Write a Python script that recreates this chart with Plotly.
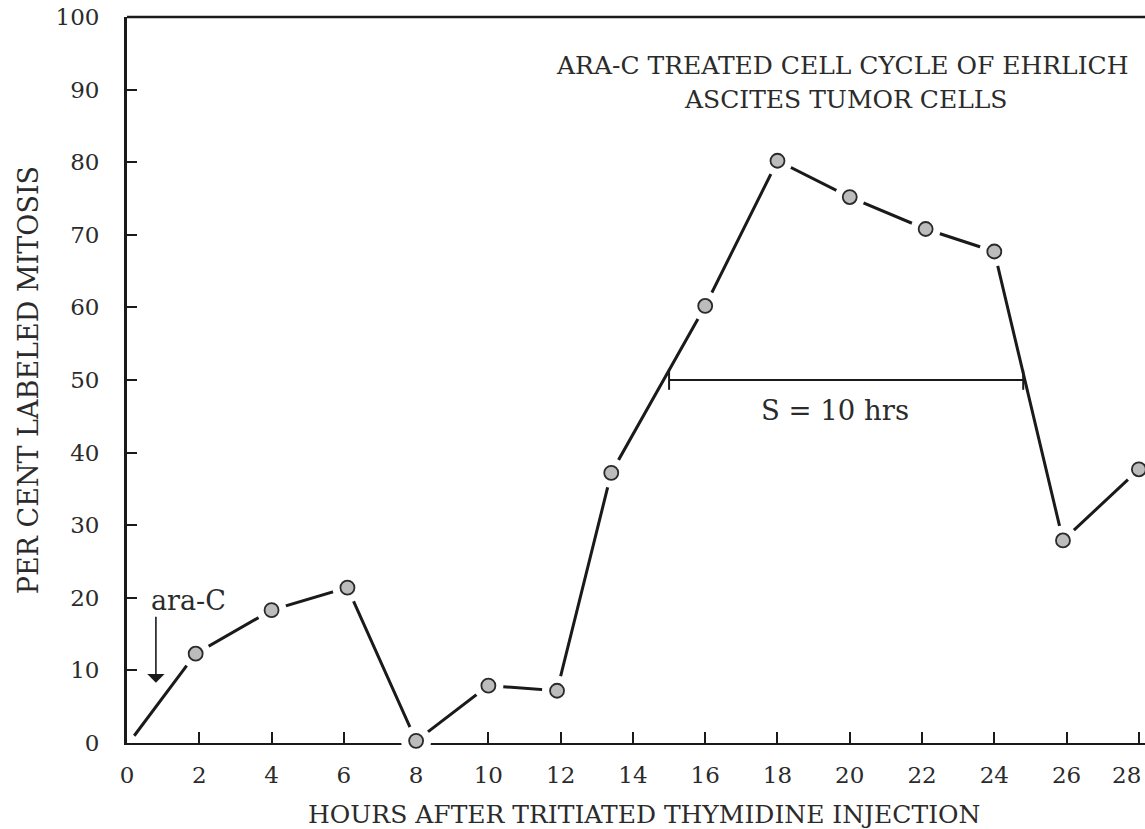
import plotly.graph_objects as go

# ---- data ----
hours = [0.2, 1.9, 4.0, 6.1, 8.0, 10.0, 11.9, 13.4, 16.0, 18.0, 20.0, 22.1, 24.0, 25.9, 28.0]
percent_labeled = [1.0, 12.3, 18.3, 21.4, 0.3, 7.9, 7.2, 37.2, 60.2, 80.2, 75.2, 70.8, 67.7, 27.9, 37.7]

x_ticks = [0, 2, 4, 6, 8, 10, 12, 14, 16, 18, 20, 22, 24, 26, 28]
x_tick_labels = ["0", "2", "4", "6", "8", "10", "12", "14", "16", "18", "20", "22", "24", "26", "28"]
y_ticks = [0, 10, 20, 30, 40, 50, 60, 70, 80, 90, 100]
y_tick_labels = ["0", "10", "20", "30", "40", "50", "60", "70", "80", "90", "100"]

s_phase_start = 15.0
s_phase_end = 24.8
s_phase_level = 50

title_lines = ["ARA-C TREATED CELL CYCLE OF EHRLICH", "ASCITES TUMOR CELLS"]
x_title = "HOURS AFTER TRITIATED THYMIDINE INJECTION"
y_title = "PER CENT LABELED MITOSIS"

FONT = "DejaVu Serif"
INK = "#1a1a1a"
TXT = "#2b2b2b"

fig = go.Figure()

# connecting line
fig.add_trace(go.Scatter(
    x=hours, y=percent_labeled, mode="lines",
    line=dict(color=INK, width=3), cliponaxis=False,
    hoverinfo="skip", showlegend=False,
))
# white halo around markers (creates gaps between line and circles)
fig.add_trace(go.Scatter(
    x=hours[1:], y=percent_labeled[1:], mode="markers",
    marker=dict(size=30, color="white", opacity=1, line=dict(width=0, color="white")),
    cliponaxis=False, hoverinfo="skip", showlegend=False,
))
# the data circles
fig.add_trace(go.Scatter(
    x=hours[1:], y=percent_labeled[1:], mode="markers",
    marker=dict(size=14, color="#bcbcbc", line=dict(width=1.8, color="#2a2a2a")),
    cliponaxis=False, showlegend=False,
))

# S-phase bracket
fig.add_trace(go.Scatter(
    x=[s_phase_start, s_phase_end], y=[s_phase_level, s_phase_level],
    mode="lines+markers",
    line=dict(color=INK, width=2.2),
    marker=dict(symbol="line-ns", size=14, line=dict(width=2, color=INK)),
    hoverinfo="skip", showlegend=False,
))

# the last tick label sits at the page edge in the reference: shown as an annotation nudged left
axis_ticktext = x_tick_labels[:-1] + [""]

fig.update_layout(
    width=1145, height=829,
    margin=dict(l=127, r=0, t=17, b=86, autoexpand=False),
    paper_bgcolor="white", plot_bgcolor="white",
    font=dict(family=FONT, size=24, color=TXT),
    showlegend=False,
    xaxis=dict(
        range=[0, 28.17], tickmode="array", tickvals=x_ticks,
        ticktext=axis_ticktext,
        ticks="inside", ticklen=11, tickwidth=2, tickcolor=INK,
        showline=True, linecolor=INK, linewidth=2.2,
        showgrid=False, zeroline=False, layer="below traces",
        tickfont=dict(family=FONT, size=23, color=TXT),
        ticklabelstandoff=10, automargin=False,
    ),
    yaxis=dict(
        range=[0, 100], tickmode="array", tickvals=y_ticks,
        ticktext=y_tick_labels,
        ticks="inside", ticklen=10, tickwidth=2.2, tickcolor=INK,
        showline=True, linecolor=INK, linewidth=2.8,
        showgrid=False, zeroline=False, layer="below traces",
        tickfont=dict(family=FONT, size=23, color=TXT),
        ticklabelstandoff=20, ticklabeloverflow="allow", automargin=False,
    ),
    shapes=[dict(type="line", xref="paper", yref="paper", x0=0, x1=1, y0=1, y1=1,
                 line=dict(color=INK, width=2.4))],
)

annotations = [
    dict(text=x_tick_labels[-1], x=x_ticks[-1], y=0, xref="x", yref="y",
         xanchor="right", yanchor="top", xshift=4, yshift=-17, showarrow=False,
         font=dict(family=FONT, size=23, color=TXT)),
    dict(text=title_lines[0], x=19.8, y=93.3, xref="x", yref="y",
         showarrow=False, font=dict(family=FONT, size=25, color=TXT)),
    dict(text=title_lines[1], x=19.9, y=88.6, xref="x", yref="y",
         showarrow=False, font=dict(family=FONT, size=25, color=TXT)),
    dict(text=x_title, x=0.508, y=-0.098, xref="paper", yref="paper",
         showarrow=False, xanchor="center", yanchor="middle",
         font=dict(family=FONT, size=25, color=TXT)),
    dict(text=y_title, x=-0.097, y=0.5, xref="paper", yref="paper",
         showarrow=False, textangle=-90, xanchor="center", yanchor="middle",
         font=dict(family=FONT, size=27, color=TXT)),
    dict(text="S = 10 hrs", x=19.6, y=45.8, xref="x", yref="y",
         showarrow=False, font=dict(family=FONT, size=27.5, color=TXT)),
    dict(text="ara-C", x=1.69, y=19.6, xref="x", yref="y",
         showarrow=False, font=dict(family=FONT, size=27, color=TXT)),
    dict(text="", x=0.8, y=8.3, xref="x", yref="y",
         ax=0.8, ay=17.6, axref="x", ayref="y",
         showarrow=True, arrowhead=1, arrowsize=1.8, arrowwidth=1.6, arrowcolor=INK),
]
fig.update_layout(annotations=annotations)

fig.write_html("out.html")
